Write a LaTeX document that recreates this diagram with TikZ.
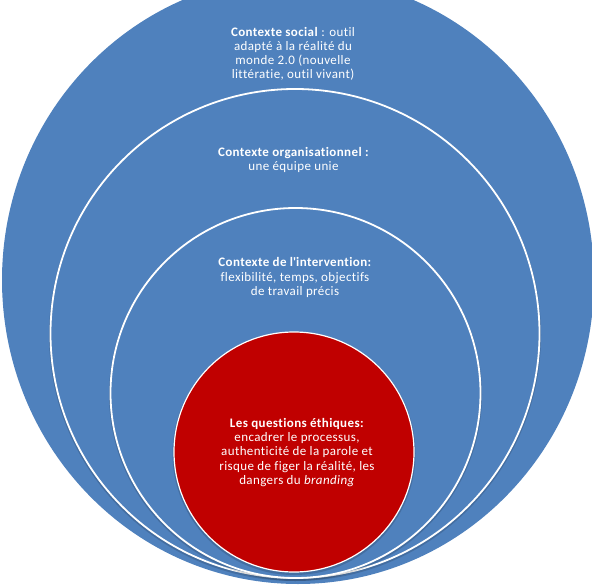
\documentclass[tikz,border=0pt]{standalone}
\usepackage{fontspec}
\setmainfont[Ligatures={TeX,NoCommon}, LetterSpace=3]{Carlito}
\definecolor{bleucercle}{HTML}{4F81BD}
\definecolor{rougecercle}{HTML}{C00000}
\tikzset{
  anneau/.style={fill=bleucercle, draw=white, line width=1.8pt},
  noyau/.style={fill=rougecercle, draw=white, line width=1.2pt},
  ombre/.style={draw=black, opacity=0.15, line width=3pt},
  texte/.style={text=white, align=center, inner sep=0pt, font=\fontsize{13}{14.2}\selectfont},
}
\begin{document}
\begin{tikzpicture}[x=1pt, y=-1pt]
    \useasboundingbox (0,0) rectangle (592,586);

    % Contexte social
    \fill[bleucercle] (298,280) ellipse [x radius=296, y radius=304];

    % Contexte organisationnel
    \draw[ombre] (295,335) circle [radius=244.5];
    \draw[anneau] (295,333.5) circle [radius=244.5];

    % Contexte de l'intervention
    \draw[ombre] (295.5,394.5) circle [radius=185];
    \draw[anneau] (295.5,393) circle [radius=185];

    % Questions ethiques
    \draw[ombre] (294,453.5) circle [radius=120];
    \draw[noyau] (294,452) circle [radius=120];

    % Textes
    \node[texte] (social) at (293,54) {\textbf{Contexte social} : outil\\adapté à la réalité du\\monde 2.0 (nouvelle\\littératie, outil vivant)};
    \node[texte] (organisation) at (293.5,160) {\textbf{Contexte organisationnel :}\\une équipe unie};
    \node[texte] (intervention) at (295,277.5) {\textbf{Contexte de l\textquotesingle intervention:}\\flexibilité, temps, objectifs\\de travail précis};
    \node[texte] (ethique) at (297,452.5) {\textbf{Les questions éthiques:}\\encadrer le processus,\\authenticité de la parole et\\risque de figer la réalité, les\\dangers du \textit{branding}};
\end{tikzpicture}
\end{document}
